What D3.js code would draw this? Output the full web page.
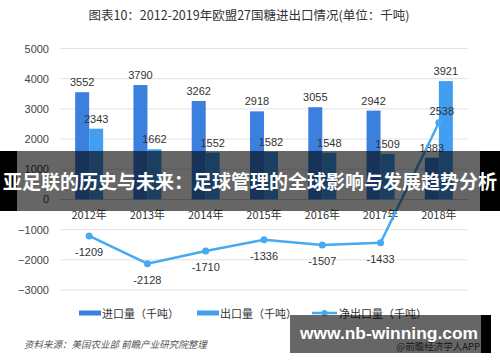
<!doctype html>
<html lang="zh">
<head>
    <meta charset="UTF-8">
    <title>欧盟27国糖进出口情况</title>
    <script src="https://d3js.org/d3.v7.min.js"></script>
    <style>
        body { margin: 0; background: #fff; }
        svg { display: block; }
        text { font-family: "Liberation Sans", Arial, "Noto Sans CJK SC", sans-serif; }
        .cjk { font-family: "Noto Sans CJK SC", sans-serif; }
    </style>
</head>
<body>
    <svg width="500" height="362"></svg>
    <script>
        const years = ['2012年', '2013年', '2014年', '2015年', '2016年', '2017年', '2018年'];
        const imports = [3552, 3790, 3262, 2918, 3055, 2942, 1383];
        const exports = [2343, 1662, 1552, 1582, 1548, 1509, 3921];
        const netExports = [-1209, -2128, -1710, -1336, -1507, -1433, 2538];
        const yTicks = [-3000, -2000, -1000, 0, 1000, 2000, 3000, 4000, 5000];
        const seriesNames = ['进口量（千吨）', '出口量（千吨）', '净出口量（千吨）'];

        const colImport = '#3b7fdf';
        const colExport = '#429ff0';
        const colNet = '#46a9f2';

        const svg = d3.select('svg');

        const x = d3.scaleBand()
            .domain(years)
            .range([60, 468])
            .padding(0);

        const half = 14;
        const xInner = d3.scaleBand()
            .domain(['import', 'export'])
            .range([x.bandwidth() / 2 - half, x.bandwidth() / 2 + half]);

        const y = d3.scaleLinear()
            .domain([-3000, 5000])
            .range([290, 48.5]);

        // title
        svg.append('text')
            .attr('class', 'cjk')
            .attr('x', 249)
            .attr('y', 20)
            .attr('text-anchor', 'middle')
            .attr('font-size', 12.5)
            .attr('fill', '#333')
            .text('图表10：2012-2019年欧盟27国糖进出口情况(单位：千吨)');

        // grid
        svg.append('g')
            .selectAll('line')
            .data(yTicks)
            .join('line')
            .attr('x1', 60)
            .attr('x2', 468)
            .attr('y1', d => y(d))
            .attr('y2', d => y(d))
            .attr('stroke', d => d === 0 ? '#d0d0d0' : '#e2e2e2')
            .attr('stroke-width', 1);

        // y axis labels
        const yAxis = svg.append('g')
            .attr('transform', 'translate(49,0)')
            .call(d3.axisLeft(y).tickValues(yTicks).tickFormat(d3.format('d')).tickSize(0).tickPadding(0));
        yAxis.select('.domain').remove();
        yAxis.selectAll('text')
            .attr('font-size', 11)
            .attr('fill', '#444')
            .attr('font-family', '"Liberation Sans", Arial, sans-serif');

        // bars
        const groups = svg.append('g')
            .selectAll('g')
            .data(years)
            .join('g')
            .attr('transform', d => `translate(${x(d)},0)`);

        groups.append('rect')
            .attr('x', xInner('import'))
            .attr('width', xInner.bandwidth())
            .attr('y', (d, i) => y(imports[i]))
            .attr('height', (d, i) => y(0) - y(imports[i]))
            .attr('fill', colImport);

        groups.append('rect')
            .attr('x', xInner('export'))
            .attr('width', xInner.bandwidth())
            .attr('y', (d, i) => y(exports[i]))
            .attr('height', (d, i) => y(0) - y(exports[i]))
            .attr('fill', colExport);

        groups.append('text')
            .attr('x', xInner('import') + xInner.bandwidth() / 2)
            .attr('y', (d, i) => y(imports[i]) - 6)
            .attr('text-anchor', 'middle')
            .attr('font-size', 11)
            .attr('fill', '#333')
            .text((d, i) => imports[i]);

        groups.append('text')
            .attr('x', xInner('export') + xInner.bandwidth() / 2)
            .attr('y', (d, i) => y(exports[i]) - 6)
            .attr('text-anchor', 'middle')
            .attr('font-size', 11)
            .attr('fill', '#333')
            .text((d, i) => exports[i]);

        // x labels
        svg.append('g')
            .selectAll('text')
            .data(years)
            .join('text')
            .attr('class', 'cjk')
            .attr('x', d => x(d) + x.bandwidth() / 2)
            .attr('y', 219)
            .attr('text-anchor', 'middle')
            .attr('font-size', 11)
            .attr('fill', '#333')
            .text(d => d);

        // net export line
        const cx = (d, i) => x(years[i]) + x.bandwidth() / 2;
        const line = d3.line()
            .x((d, i) => cx(d, i))
            .y(d => y(d));

        svg.append('path')
            .datum(netExports)
            .attr('d', line)
            .attr('fill', 'none')
            .attr('stroke', colNet)
            .attr('stroke-width', 2.5);

        svg.append('g')
            .selectAll('circle')
            .data(netExports)
            .join('circle')
            .attr('cx', cx)
            .attr('cy', d => y(d))
            .attr('r', 3.5)
            .attr('fill', colNet);

        svg.append('g')
            .selectAll('text')
            .data(netExports)
            .join('text')
            .attr('x', (d, i) => cx(d, i) + (d > 0 ? 3 : 0))
            .attr('y', d => d > 0 ? y(d) - 8 : y(d) + 20)
            .attr('text-anchor', 'middle')
            .attr('font-size', 11)
            .attr('fill', '#333')
            .text(d => d);

        // legend
        const legend = svg.append('g').attr('class', 'cjk');
        const legendItems = [
            { x: 79, name: seriesNames[0], color: colImport, type: 'bar' },
            { x: 197, name: seriesNames[1], color: colExport, type: 'bar' },
            { x: 312, name: seriesNames[2], color: colNet, type: 'line' }
        ];
        legendItems.forEach(it => {
            if (it.type === 'bar') {
                legend.append('rect')
                    .attr('x', it.x).attr('y', 310.5)
                    .attr('width', 22).attr('height', 5)
                    .attr('fill', it.color);
                legend.append('text')
                    .attr('x', it.x + 23).attr('y', 317.5)
                    .attr('font-size', 11).attr('fill', '#333')
                    .text(it.name);
            } else {
                legend.append('line')
                    .attr('x1', it.x).attr('x2', it.x + 25)
                    .attr('y1', 313).attr('y2', 313)
                    .attr('stroke', it.color).attr('stroke-width', 2.5);
                legend.append('circle')
                    .attr('cx', it.x + 12.5).attr('cy', 313).attr('r', 3)
                    .attr('fill', it.color);
                legend.append('text')
                    .attr('x', it.x + 27).attr('y', 317.5)
                    .attr('font-size', 11).attr('fill', '#333')
                    .text(it.name);
            }
        });

        // source
        svg.append('text')
            .attr('class', 'cjk')
            .attr('x', 24)
            .attr('y', 348)
            .attr('font-size', 9.5)
            .attr('font-style', 'italic')
            .attr('fill', '#555')
            .text('资料来源：美国农业部 前瞻产业研究院整理');

        svg.append('text')
            .attr('class', 'cjk')
            .attr('x', 480)
            .attr('y', 350)
            .attr('text-anchor', 'end')
            .attr('font-size', 9.5)
            .attr('fill', '#444')
            .text('@前瞻经济学人APP');

        // banner overlay
        svg.append('rect')
            .attr('x', 0).attr('y', 151).attr('width', 17).attr('height', 60)
            .attr('fill', '#000');
        svg.append('rect')
            .attr('x', 480).attr('y', 151).attr('width', 20).attr('height', 60)
            .attr('fill', '#000');
        svg.append('rect')
            .attr('x', 17).attr('y', 151).attr('width', 463).attr('height', 60)
            .attr('fill', '#000').attr('fill-opacity', 0.6);
        svg.append('text')
            .attr('class', 'cjk')
            .attr('x', 250)
            .attr('y', 189)
            .attr('text-anchor', 'middle')
            .attr('font-size', 19)
            .attr('font-weight', 'bold')
            .attr('fill', '#fff')
            .attr('textLength', 494)
            .attr('lengthAdjust', 'spacingAndGlyphs')
            .text('亚足联的历史与未来：足球管理的全球影响与发展趋势分析');

        // site overlay
        svg.append('rect')
            .attr('x', 481).attr('y', 315).attr('width', 10).attr('height', 38)
            .attr('fill', '#000');
        svg.append('rect')
            .attr('x', 290).attr('y', 315).attr('width', 191).attr('height', 38)
            .attr('fill', '#000').attr('fill-opacity', 0.6);
        svg.append('text')
            .attr('x', 389)
            .attr('y', 339)
            .attr('text-anchor', 'middle')
            .attr('font-family', '"DejaVu Sans", sans-serif')
            .attr('font-size', 17)
            .attr('font-weight', 'bold')
            .attr('fill', '#fff')
            .attr('textLength', 178)
            .attr('lengthAdjust', 'spacingAndGlyphs')
            .text('www.nb-winning.com');
    </script>
</body>
</html>
